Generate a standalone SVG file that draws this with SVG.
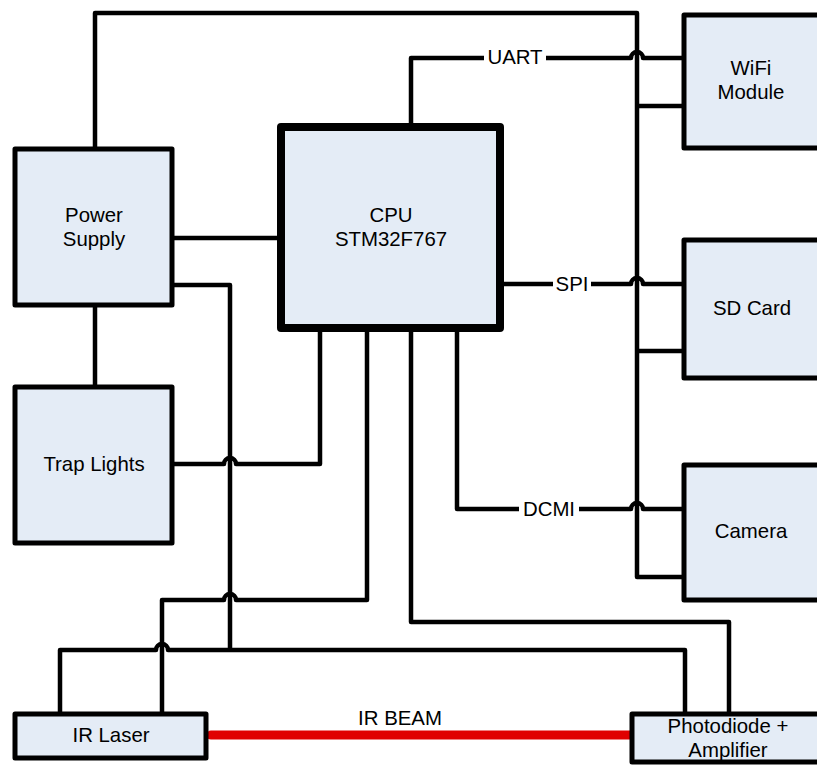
<svg xmlns="http://www.w3.org/2000/svg" width="817" height="765" viewBox="0 0 817 765">
<style>
.box{fill:#e4ecf6;stroke:#000;stroke-width:5;stroke-linejoin:round}
.cpu{fill:#e4ecf6;stroke:#000;stroke-width:8;stroke-linejoin:round}
.w{fill:none;stroke:#000;stroke-width:4.5;stroke-linejoin:round}
.beam{fill:none;stroke:#e00000;stroke-width:9;stroke-linecap:round}
text{font-family:"Liberation Sans",Arial,sans-serif;font-size:20.4px;fill:#000;text-anchor:middle}
.lbl{fill:#fff}
</style>
<rect width="817" height="765" fill="#fff"/>
<g id="connectors">
<path class="w" d="M95,149 V13 H637 V577 H684"/>
<path class="w" d="M637,106 H684"/>
<path class="w" d="M637,351 H684"/>
<path class="w" d="M411,127 V58 H631 A6,6 0 0 1 643,58 H684"/>
<path class="w" d="M500,284 H631 A6,6 0 0 1 643,284 H684"/>
<path class="w" d="M457,328 V509 H631 A6,6 0 0 1 643,509 H684"/>
<path class="w" d="M172,238 H281"/>
<path class="w" d="M95,305 V387"/>
<path class="w" d="M172,285 H230 V650"/>
<path class="w" d="M172,464 H224 A6,6 0 0 1 236,464 H320 V328"/>
<path class="w" d="M367,328 V600 H236 A6,6 0 0 0 224,600 H162 V714"/>
<path class="w" d="M60,714 V650 H156 A6,6 0 0 1 168,650 H685 V714"/>
<path class="w" d="M411,328 V622 H729 V714"/>
<rect class="lbl" x="484" y="46" width="62" height="24"/>
<rect class="lbl" x="553" y="272" width="38" height="24"/>
<rect class="lbl" x="519" y="497" width="60" height="24"/>
<path class="beam" d="M211,735 H631"/>
</g>
<g id="label-uart"><text x="515" y="64">UART</text></g>
<g id="label-spi"><text x="572" y="291">SPI</text></g>
<g id="label-dcmi"><text x="549" y="516">DCMI</text></g>
<g id="label-beam"><text x="400" y="725">IR BEAM</text></g>
<g id="power-supply">
<rect class="box" x="15" y="149" width="157" height="156"/>
<text x="94" y="222">Power</text>
<text x="94" y="246">Supply</text>
</g>
<g id="cpu">
<rect class="cpu" x="281" y="127" width="219" height="201"/>
<text x="391" y="222">CPU</text>
<text x="391" y="246">STM32F767</text>
</g>
<g id="wifi">
<rect class="box" x="684" y="15" width="140" height="133"/>
<text x="751" y="75">WiFi</text>
<text x="751" y="99">Module</text>
</g>
<g id="sd-card">
<rect class="box" x="684" y="240" width="140" height="138"/>
<text x="752" y="315">SD Card</text>
</g>
<g id="camera">
<rect class="box" x="684" y="465" width="140" height="135"/>
<text x="751" y="538">Camera</text>
</g>
<g id="trap-lights">
<rect class="box" x="15" y="387" width="157" height="156"/>
<text x="94" y="471">Trap Lights</text>
</g>
<g id="ir-laser">
<rect class="box" x="15" y="714" width="191" height="44"/>
<text x="111" y="742">IR Laser</text>
</g>
<g id="photodiode">
<rect class="box" x="632" y="714" width="190" height="48"/>
<text x="728" y="733">Photodiode +</text>
<text x="728" y="757">Amplifier</text>
</g>
</svg>
